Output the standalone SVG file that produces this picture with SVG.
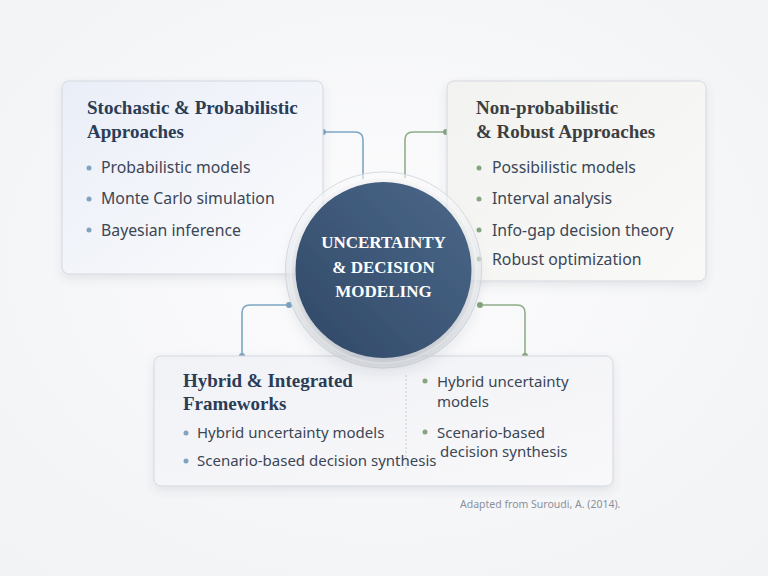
<svg xmlns="http://www.w3.org/2000/svg" width="768" height="576" viewBox="0 0 768 576">
<defs>
<radialGradient id="bg" cx="50%" cy="45%" r="70%">
<stop offset="0" stop-color="#fcfcfd"/>
<stop offset="1" stop-color="#f2f3f5"/>
</radialGradient>
<linearGradient id="gL" x1="0" y1="0" x2="1" y2="1">
<stop offset="0" stop-color="#eaeef7"/>
<stop offset="1" stop-color="#fafbfd"/>
</linearGradient>
<linearGradient id="gR" x1="0" y1="0" x2="1" y2="1">
<stop offset="0" stop-color="#f2f3f0"/>
<stop offset="1" stop-color="#f9f9f8"/>
</linearGradient>
<linearGradient id="gB" x1="0" y1="0" x2="1" y2="1">
<stop offset="0" stop-color="#f1f2f6"/>
<stop offset="1" stop-color="#f8f8fa"/>
</linearGradient>
<linearGradient id="gC" x1="1" y1="0" x2="0" y2="1">
<stop offset="0" stop-color="#4a6788"/>
<stop offset="0.5" stop-color="#3e5878"/>
<stop offset="1" stop-color="#304866"/>
</linearGradient>
<linearGradient id="gRing" x1="0" y1="0" x2="0" y2="1">
<stop offset="0" stop-color="#ffffff" stop-opacity="0.55"/>
<stop offset="1" stop-color="#e3e6ea" stop-opacity="0.6"/>
</linearGradient>
<filter id="sh" x="-20%" y="-20%" width="140%" height="150%">
<feDropShadow dx="0" dy="4" stdDeviation="5" flood-color="#4a5568" flood-opacity="0.12"/>
</filter>
<filter id="shc" x="-30%" y="-30%" width="160%" height="160%">
<feDropShadow dx="0" dy="8" stdDeviation="9" flood-color="#2a3a50" flood-opacity="0.25"/>
</filter>
</defs>
<style>
.box{stroke:#d3d7de;stroke-width:1}
.ttl{font-family:"Liberation Serif","DejaVu Serif",serif;font-weight:bold;font-size:19px}
.item{font-family:"Noto Sans","Open Sans",sans-serif;font-size:15.8px;fill:#3b4656}
.item2{font-family:"Noto Sans","Open Sans",sans-serif;font-size:15px;fill:#3b4656}
.ctr{font-family:"Liberation Serif","DejaVu Serif",serif;font-weight:bold;font-size:17px;fill:#ffffff;text-anchor:middle}
.blue{fill:none;stroke:#7ea6c4;stroke-width:1.6}
.green{fill:none;stroke:#90ad8a;stroke-width:1.6}
.bd{fill:#7fa3c0}
.gd{fill:#86a47f}
.cap{font-family:"Noto Sans","Open Sans",sans-serif;font-size:10.5px;fill:#8a909b}
</style>
<rect width="768" height="576" fill="url(#bg)"/>

<g id="connectors">
<path class="blue" d="M323,132 H355 Q363,132 363,140 V180"/>
<circle class="bd" cx="323" cy="132" r="3"/>
<path class="green" d="M446,132 H413 Q405,132 405,140 V178"/>
<circle class="gd" cx="446" cy="132" r="3"/>
<path class="blue" d="M289,305 H250 Q242,305 242,313 V356"/>
<circle class="bd" cx="289" cy="305" r="3"/>
<circle class="bd" cx="242" cy="356" r="3"/>
<path class="green" d="M480,305 H517 Q525,305 525,313 V356"/>
<circle class="gd" cx="480" cy="305" r="3"/>
<circle class="gd" cx="525" cy="356" r="3"/>
</g>

<g id="stochastic">
<rect class="box" x="62" y="81" width="261" height="193" rx="7" fill="url(#gL)" filter="url(#sh)"/>
<text class="ttl" fill="#2a3c56" x="87" y="114">Stochastic &amp; Probabilistic</text>
<text class="ttl" fill="#2a3c56" x="87" y="138">Approaches</text>
<circle class="bd" cx="89" cy="168" r="2.5"/>
<text class="item" x="101" y="173">Probabilistic models</text>
<circle class="bd" cx="89" cy="199" r="2.5"/>
<text class="item" x="101" y="204">Monte Carlo simulation</text>
<circle class="bd" cx="89" cy="230" r="2.5"/>
<text class="item" x="101" y="236">Bayesian inference</text>
</g>

<g id="nonprob">
<rect class="box" x="447" y="81" width="259" height="200" rx="7" fill="url(#gR)" filter="url(#sh)"/>
<text class="ttl" fill="#3c3f42" x="476" y="114">Non-probabilistic</text>
<text class="ttl" fill="#3c3f42" x="476" y="138">&amp; Robust Approaches</text>
<circle class="gd" cx="479" cy="168" r="2.5"/>
<text class="item" x="492" y="173">Possibilistic models</text>
<circle class="gd" cx="479" cy="199" r="2.5"/>
<text class="item" x="492" y="204">Interval analysis</text>
<circle class="gd" cx="479" cy="230" r="2.5"/>
<text class="item" x="492" y="236">Info-gap decision theory</text>
<circle class="gd" cx="479" cy="259" r="2.5"/>
<text class="item" x="492" y="265">Robust optimization</text>
</g>

<g id="hybrid">
<rect class="box" x="154" y="356" width="459" height="130" rx="7" fill="url(#gB)" filter="url(#sh)"/>
<line x1="406" y1="375" x2="406" y2="470" stroke="#c9ccd2" stroke-width="1" stroke-dasharray="2,2"/>
<text class="ttl" fill="#2a3c56" x="183" y="387">Hybrid &amp; Integrated</text>
<text class="ttl" fill="#2a3c56" x="183" y="410">Frameworks</text>
<circle class="bd" cx="186" cy="433" r="2.5"/>
<text class="item2" x="197" y="438">Hybrid uncertainty models</text>
<circle class="bd" cx="186" cy="461" r="2.5"/>
<text class="item2" x="197" y="466">Scenario-based decision synthesis</text>
<circle class="gd" cx="425" cy="381" r="2.5"/>
<text class="item2" x="437" y="387">Hybrid uncertainty</text>
<text class="item2" x="437" y="407">models</text>
<circle class="gd" cx="425" cy="432" r="2.5"/>
<text class="item2" x="437" y="438">Scenario-based</text>
<text class="item2" x="440" y="457">decision synthesis</text>
</g>

<g id="center">
<circle cx="383.5" cy="270" r="98" fill="url(#gRing)" stroke="#d8dce2" stroke-width="1"/>
<circle cx="383.5" cy="270" r="93" fill="none" stroke="#ffffff" stroke-width="1.5" opacity="0.7"/>
<circle cx="383.5" cy="270" r="88" fill="url(#gC)" filter="url(#shc)"/>
<text class="ctr" x="383.5" y="248">UNCERTAINTY</text>
<text class="ctr" x="383.5" y="273">&amp; DECISION</text>
<text class="ctr" x="383.5" y="297">MODELING</text>
</g>

<text class="cap" x="460" y="508">Adapted from Suroudi, A. (2014).</text>
</svg>
